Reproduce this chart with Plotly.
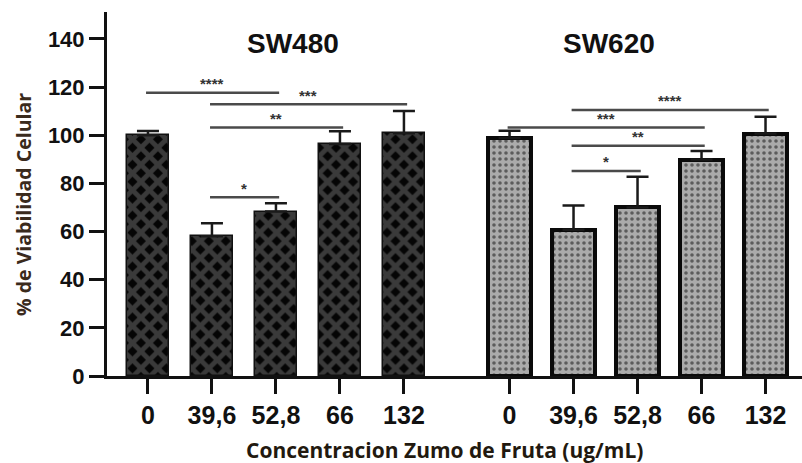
import plotly.graph_objects as go

# ---------------- data ----------------
concentrations = ["0", "39,6", "52,8", "66", "132"]
sw480_mean = [100.0, 58.0, 68.3, 96.4, 100.8]
sw480_sd = [1.8, 5.5, 3.5, 5.3, 9.3]
sw620_mean = [98.9, 60.7, 70.0, 89.9, 100.7]
sw620_sd = [3.0, 10.1, 12.8, 3.6, 7.0]

# significance brackets: (from category index, to category index, height, label)
sig_sw480 = [(0, 2, 117.7, "****"), (1, 4, 112.9, "***"), (1, 3, 103.2, "**"), (1, 2, 74.2, "*")]
sig_sw620 = [(1, 4, 110.5, "****"), (0, 3, 103.2, "***"), (1, 3, 95.6, "**"), (1, 2, 85.2, "*")]

group_names = ["SW480", "SW620"]
x_title = "Concentracion Zumo de Fruta (ug/mL)"
y_title = "% de Viabilidad Celular"

# ---------------- layout helpers ----------------
GROUP2_OFFSET = 5.65
BAR_W = 0.66
x1 = [float(i) for i in range(len(concentrations))]
x2 = [GROUP2_OFFSET + i for i in range(len(concentrations))]

fig = go.Figure()

fig.add_trace(go.Bar(
    x=x1, y=sw480_mean, width=BAR_W, name="SW480",
    marker=dict(
        color="#050505",
        line=dict(color="#111111", width=1.5),
        pattern=dict(shape="x", fgcolor="#3a3a3a", bgcolor="#050505",
                     size=12, solidity=0.64, fillmode="replace"),
    ),
    error_y=dict(type="data", array=sw480_sd, arrayminus=[0] * 5, symmetric=False,
                 color="#1a1a1a", thickness=2.5, width=11),
))

fig.add_trace(go.Bar(
    x=x2, y=sw620_mean, width=BAR_W, name="SW620",
    marker=dict(
        color="#aaaaaa",
        line=dict(color="#0a0a0a", width=4),
        pattern=dict(shape=".", fgcolor="#5c5c5c", bgcolor="#ababab",
                     size=6, solidity=0.28, fillmode="replace"),
    ),
    error_y=dict(type="data", array=sw620_sd, arrayminus=[0] * 5, symmetric=False,
                 color="#1a1a1a", thickness=2.5, width=11),
))

shapes = []
annotations = []
for xs, sigs in ((x1, sig_sw480), (x2, sig_sw620)):
    for a, b, h, lab in sigs:
        shapes.append(dict(type="line", xref="x", yref="y",
                           x0=xs[a] - 0.03, x1=xs[b] + 0.05, y0=h, y1=h,
                           line=dict(color="#4a4a4a", width=2.5)))
        annotations.append(dict(x=(xs[a] + xs[b]) / 2, y=h, xref="x", yref="y",
                                text=lab, showarrow=False, yanchor="middle", yshift=9,
                                font=dict(family="Liberation Sans, Arial", size=15,
                                          color="#333333", weight="bold")))

annotations.append(dict(x=2.27, y=138, xref="x", yref="y", text=group_names[0],
                        showarrow=False, font=dict(family="Liberation Sans, Arial",
                                                   size=28, color="#111111", weight="bold")))
annotations.append(dict(x=7.2, y=138, xref="x", yref="y", text=group_names[1],
                        showarrow=False, font=dict(family="Liberation Sans, Arial",
                                                   size=28, color="#111111", weight="bold")))

# axis titles placed as paper annotations
annotations.append(dict(x=0.486, y=-0.203, xref="paper", yref="paper", text=x_title,
                        showarrow=False, xanchor="center", yanchor="middle",
                        font=dict(family="Open Sans", size=21, color="#22190f", weight="bold")))
annotations.append(dict(x=-0.121, y=0.4725, xref="paper", yref="paper", text=y_title,
                        showarrow=False, xanchor="center", yanchor="middle", textangle=-90,
                        font=dict(family="Open Sans", size=19.5, color="#3a2a1c", weight="bold")))

fig.update_layout(
    width=802, height=463,
    margin=dict(l=107, r=0, t=12, b=87),
    paper_bgcolor="white", plot_bgcolor="white",
    showlegend=False,
    bargap=0,
    shapes=shapes,
    annotations=annotations,
)

fig.update_xaxes(
    range=[-0.64, 10.22],
    tickmode="array", tickvals=x1 + x2, ticktext=concentrations + concentrations,
    ticks="outside", ticklen=15, tickwidth=3, tickcolor="#111111",
    showline=True, linecolor="#111111", linewidth=3,
    showgrid=False, zeroline=False,
    tickfont=dict(family="Liberation Sans, Arial", size=25, color="#111111", weight="bold"),
)
fig.update_yaxes(
    range=[0, 151.2],
    tickmode="array", tickvals=[0, 20, 40, 60, 80, 100, 120, 140],
    ticks="outside", ticklen=15, tickwidth=3, tickcolor="#111111",
    showline=True, linecolor="#111111", linewidth=3,
    showgrid=False, zeroline=False,
    tickfont=dict(family="Liberation Sans, Arial", size=22, color="#111111", weight="bold"),
)

fig.write_html("out.html")
